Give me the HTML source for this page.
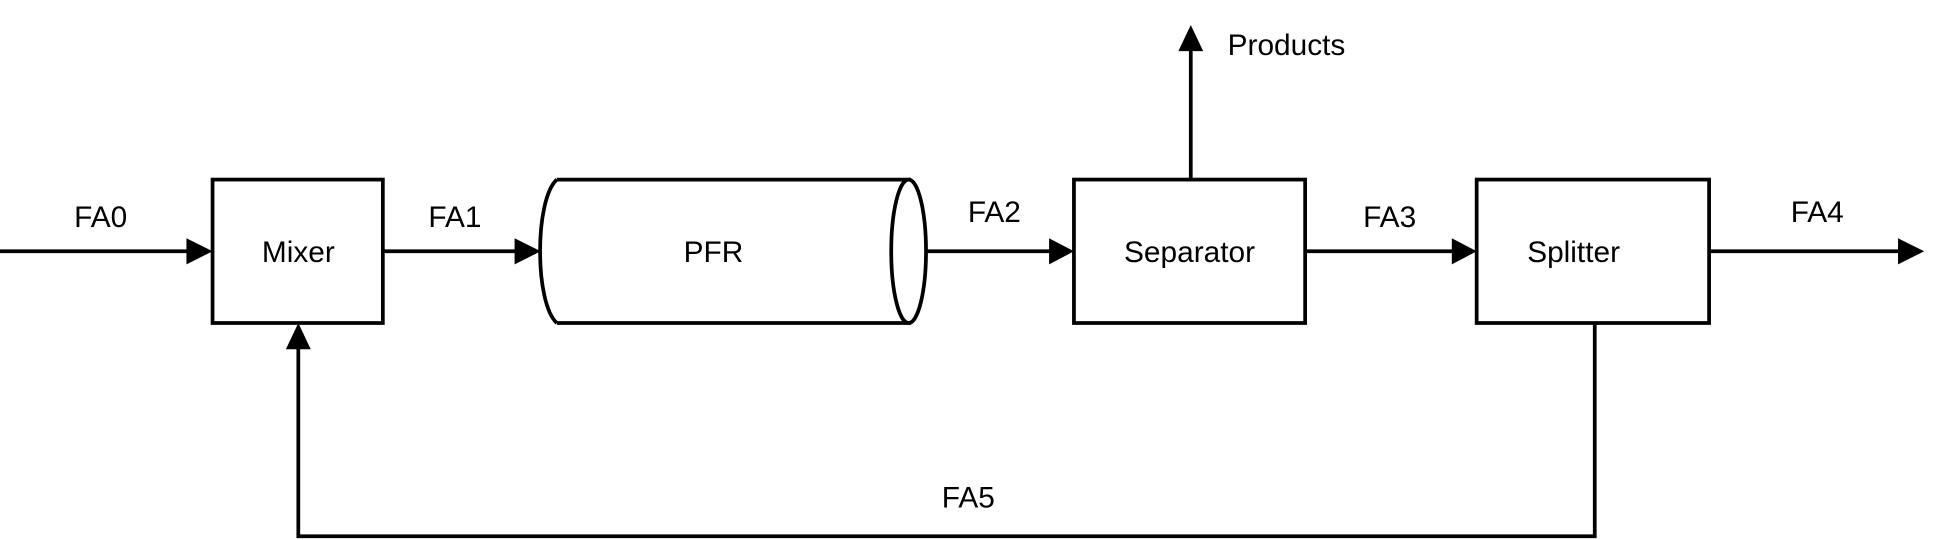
<!DOCTYPE html>
<html><head><meta charset="utf-8"><style>html,body{margin:0;padding:0;background:#fff}svg{display:block}</style></head>
<body>
<svg width="1949" height="540" viewBox="0 0 1568 433" preserveAspectRatio="none" xmlns="http://www.w3.org/2000/svg">
<g stroke="#000" stroke-width="3" fill="none">
<rect x="171" y="144" width="137" height="115"/>
<rect x="864" y="144" width="186" height="115"/>
<rect x="1188" y="144" width="187" height="115"/>
<path d="M448,144 L733,144 M448,259 L733,259 M448,144 C430,160 430,243 448,259"/>
<ellipse cx="731" cy="201.5" rx="14" ry="57.5"/>
</g>
<g fill="#000">
<path d="M0,201.5 L152,201.5" stroke="#000" stroke-width="3"/><path d="M150,191 L171,201.5 L150,212 z"/>
<path d="M308,201.5 L416,201.5" stroke="#000" stroke-width="3"/><path d="M414,191 L435,201.5 L414,212 z"/>
<path d="M745,201.5 L846,201.5" stroke="#000" stroke-width="3"/><path d="M844,191 L864,201.5 L844,212 z"/>
<path d="M1050,201.5 L1170,201.5" stroke="#000" stroke-width="3"/><path d="M1168,191 L1188,201.5 L1168,212 z"/>
<path d="M1375,201.5 L1530,201.5" stroke="#000" stroke-width="3"/><path d="M1527,191 L1548,201.5 L1527,212 z"/>
<path d="M958,144 L958,38" stroke="#000" stroke-width="3"/><path d="M948,41 L958,20 L968,41 z"/>
<path d="M1283,259 L1283,430 L240,430 L240,278" stroke="#000" stroke-width="3" fill="none"/><path d="M230,280 L240,259 L250,280 z"/>
</g>
<g font-family="'Liberation Sans', sans-serif" font-size="24" text-anchor="middle" fill="#000">
<text x="240" y="210">Mixer</text>
<text x="574" y="210">PFR</text>
<text x="957" y="210">Separator</text>
<text x="1266" y="210">Splitter</text>
<text x="81" y="182">FA0</text>
<text x="366" y="182">FA1</text>
<text x="800" y="178">FA2</text>
<text x="1118" y="182">FA3</text>
<text x="1462" y="178">FA4</text>
<text x="779" y="407">FA5</text>
<text x="1035" y="44">Products</text>
</g>
</svg>
</body></html>
